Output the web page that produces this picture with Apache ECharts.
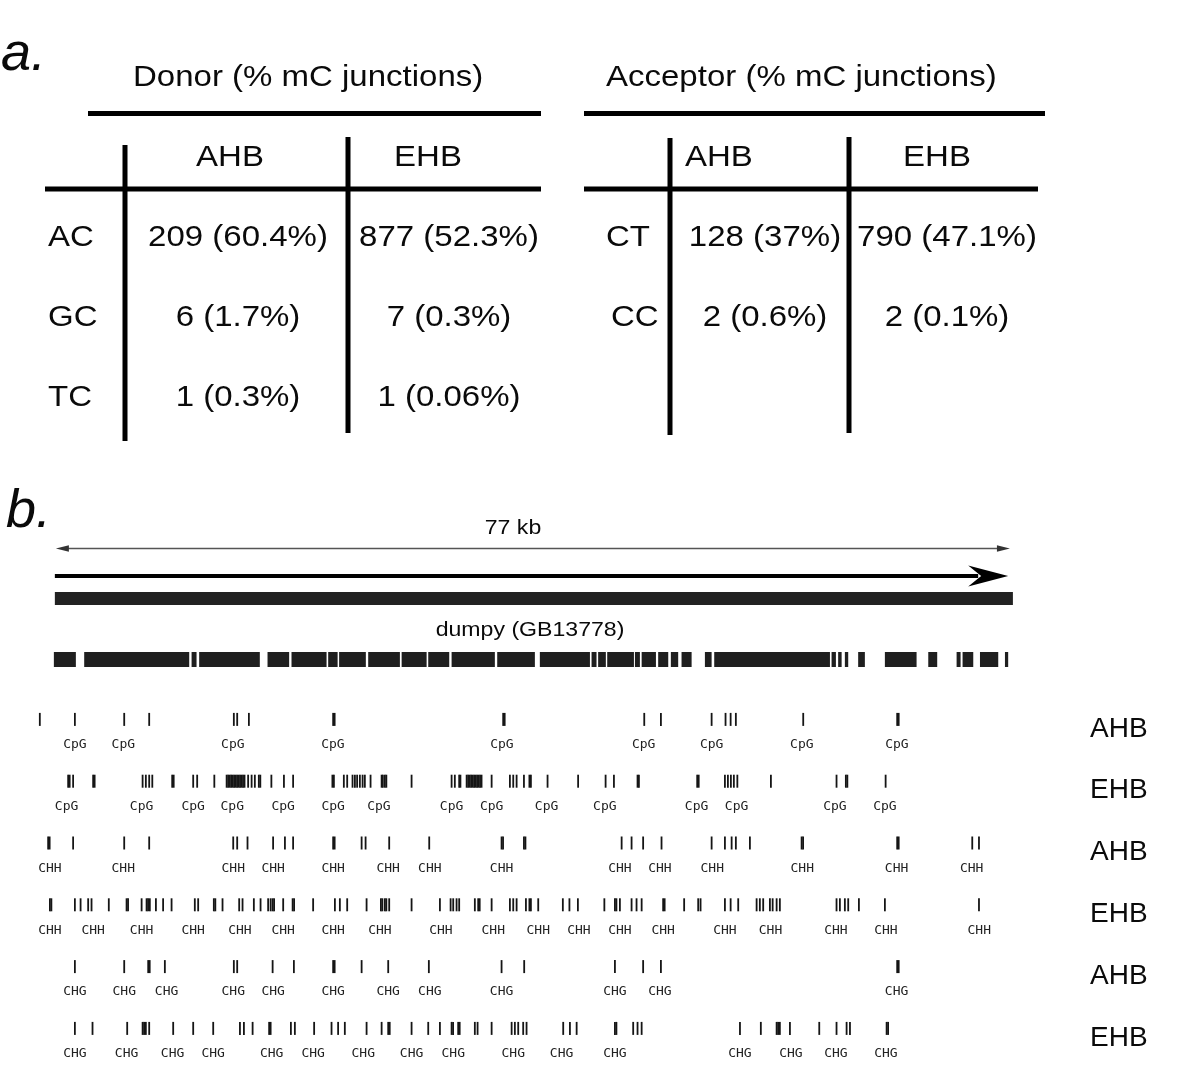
<!DOCTYPE html>
<html><head><meta charset="utf-8">
<script src="https://cdn.jsdelivr.net/npm/echarts@6.0.0/dist/echarts.min.js"></script>
<style>html,body{margin:0;padding:0;background:#fff}#c{width:1200px;height:1070px}</style>
</head><body><div id="c"></div>
<script>
// ---------- Part a: table data ----------
const donorTitle = 'Donor (% mC junctions)';
const acceptorTitle = 'Acceptor (% mC junctions)';
const tableColumns = ['AHB', 'EHB'];
const donorRowLabels = ['AC', 'GC', 'TC'];
const donorAHB = ['209 (60.4%)', '6 (1.7%)', '1 (0.3%)'];
const donorEHB = ['877 (52.3%)', '7 (0.3%)', '1 (0.06%)'];
const acceptorRowLabels = ['CT', 'CC'];
const acceptorAHB = ['128 (37%)', '2 (0.6%)'];
const acceptorEHB = ['790 (47.1%)', '2 (0.1%)'];

// ---------- Part b: gene + methylation tracks (positions in kb) ----------
const geneLengthKb = 77;
const rulerLabel = '77 kb';
const geneLabel = 'dumpy (GB13778)';
const transcriptSpan = [0, 76.7];
const exons = [[-0.08,1.69],[2.36,10.81],[11.00,11.40],[11.61,16.49],[17.11,18.85],[19.04,21.86],[21.99,22.75],[22.87,25.02],[25.21,27.76],[27.90,29.91],[30.04,31.73],[31.92,35.40],[35.59,38.62],[39.02,43.05],[43.18,43.58],[43.71,44.33],[44.44,46.59],[46.67,47.07],[47.21,48.36],[48.54,49.35],[49.56,50.15],[50.42,51.23],[52.30,52.84],[53.05,62.36],[62.49,62.84],[63.02,63.30],[63.56,63.83],[64.63,65.17],[66.78,69.33],[70.27,70.99],[72.55,72.87],[73.03,73.89],[74.43,75.90],[76.44,76.70]];

const trackSamples = ['AHB', 'EHB', 'AHB', 'EHB', 'AHB', 'EHB'];
const trackContexts = ['CpG', 'CpG', 'CHH', 'CHH', 'CHG', 'CHG'];

const sitesAHB_CpG = [-1.21,1.61,5.58,7.59,14.40,14.67,15.61,22.39,22.51,36.07,36.19,47.42,48.76,52.84,53.96,54.37,54.79,60.21,67.77,67.89];
const labelsAHB_CpG = [1.61,5.51,14.32,22.37,35.97,47.37,52.84,60.10,67.75];

const sitesEHB_CpG = [1.07,1.19,1.47,3.08,3.20,7.06,7.32,7.59,7.84,9.44,9.56,11.13,11.45,12.83,13.82,13.94,14.06,14.18,14.30,14.42,14.54,14.66,14.78,14.90,15.02,15.14,15.26,15.55,15.83,16.09,16.41,16.53,17.42,18.43,19.17,22.33,22.45,23.25,23.52,23.95,24.14,24.32,24.54,24.76,24.94,25.40,26.29,26.39,26.55,26.67,28.70,31.92,32.18,32.53,32.63,33.13,33.25,33.37,33.49,33.61,33.73,33.85,33.97,34.09,34.21,34.33,35.14,36.61,36.88,37.15,37.74,38.18,38.30,39.64,42.10,44.31,44.98,46.88,46.99,51.68,51.80,53.91,54.15,54.39,54.63,54.91,57.61,62.89,63.64,63.76,66.84];
const labelsEHB_CpG = [0.94,6.98,11.13,14.27,18.37,22.39,26.07,31.92,35.14,39.56,44.25,51.63,54.85,62.76,66.78];

const sitesAHB_CHH = [-0.54,-0.42,1.47,5.58,7.59,14.35,14.67,15.50,17.56,18.51,19.17,22.39,22.51,24.68,25.00,26.90,30.12,35.94,36.06,37.74,37.86,45.60,46.40,47.33,48.81,52.84,53.91,54.45,54.79,55.92,60.08,60.20,67.77,67.89,73.81,74.35];
const labelsAHB_CHH = [-0.40,5.50,14.35,17.56,22.39,26.82,30.17,35.94,45.46,48.68,52.89,60.13,67.72,73.76];

const sitesEHB_CHH = [-0.40,-0.28,1.61,2.07,2.68,2.95,4.34,5.77,5.89,6.98,7.38,7.50,7.64,8.13,8.71,9.39,11.26,11.53,12.79,12.91,13.49,14.83,15.10,16.01,16.55,17.16,17.36,17.52,17.64,18.37,19.13,19.25,20.78,22.53,22.93,23.52,25.08,26.23,26.35,26.55,26.67,26.90,28.70,30.98,31.84,32.05,32.32,32.53,33.79,34.06,34.18,35.14,36.61,36.88,37.15,37.90,38.18,38.30,38.89,40.87,41.40,42.08,44.21,45.06,45.18,45.46,46.40,46.80,47.21,48.94,49.06,50.63,51.76,51.95,53.91,54.37,54.98,56.46,56.72,56.99,57.53,57.75,58.07,58.33,62.89,63.16,63.56,63.83,64.69,66.78,74.35];
const labelsEHB_CHH = [-0.40,3.08,6.98,11.13,14.89,18.37,22.39,26.15,31.06,35.27,38.89,42.16,45.46,48.94,53.91,57.58,62.84,66.86,74.37];

const sitesAHB_CHG = [1.61,5.58,7.51,7.63,8.85,14.40,14.67,17.52,19.23,22.39,22.51,24.68,26.82,30.09,35.94,37.76,45.06,47.33,48.76,67.77,67.89];
const labelsAHB_CHG = [1.61,5.58,8.99,14.35,17.56,22.39,26.82,30.17,35.94,45.06,48.68,67.72];

const sitesEHB_CHG = [1.61,3.03,5.82,7.06,7.18,7.32,7.59,9.52,11.13,12.74,14.89,15.21,15.91,17.24,17.36,18.99,19.31,20.86,22.26,22.79,23.33,25.08,26.29,26.82,26.94,28.70,30.04,30.98,31.92,32.04,32.45,32.57,33.79,34.01,35.14,36.75,37.01,37.28,37.68,37.95,40.90,41.44,41.98,45.06,45.18,46.53,46.88,47.21,55.12,56.80,58.07,58.19,58.33,59.14,61.50,62.89,63.70,63.97,66.92,67.04];
const labelsEHB_CHG = [1.61,5.77,9.47,12.74,17.44,20.78,24.81,28.70,32.05,36.88,40.77,45.06,55.12,59.22,62.84,66.86];

const trackSites = [sitesAHB_CpG, sitesEHB_CpG, sitesAHB_CHH, sitesEHB_CHH, sitesAHB_CHG, sitesEHB_CHG];
const trackLabels = [labelsAHB_CpG, labelsEHB_CpG, labelsAHB_CHH, labelsEHB_CHH, labelsAHB_CHG, labelsEHB_CHG];

// ---------- layout / style ----------
const FONT = '"Liberation Sans", Arial, sans-serif';
const INK = '#0a0a0a';
const X_MIN = -2, X_MAX = 79.26;
const HEADER_OFF = { ruler: 18.5, transcript: 46, bodyTop: 62, bodyH: 13, exonTop: 122, exonH: 15 };

function txt(x, y, s, opts) {
  opts = opts || {};
  return {
    type: 'text', x: x, y: y, scaleX: opts.sx || 1.1, silent: true,
    style: {
      text: s, x: 0, y: 0, fill: INK,
      fontSize: opts.size || 30, fontFamily: FONT, fontStyle: opts.italic ? 'italic' : 'normal',
      align: opts.align || 'center', verticalAlign: 'middle'
    }
  };
}
function ln(x1, y1, x2, y2, w) {
  return { type: 'line', silent: true, shape: { x1: x1, y1: y1, x2: x2, y2: y2 }, style: { stroke: '#000', lineWidth: w || 5 } };
}

const graphics = [];
// panel letters
graphics.push(txt(1, 55, 'a.', { size: 54, italic: true, align: 'left', sx: 1 }));
graphics.push(txt(6, 512, 'b.', { size: 54, italic: true, align: 'left', sx: 1 }));
// donor table
graphics.push(txt(133, 78, donorTitle, { align: 'left' }));
graphics.push(ln(88, 113.5, 541, 113.5));
graphics.push(ln(125, 145, 125, 441));
graphics.push(ln(348, 137, 348, 433));
graphics.push(ln(45, 189, 541, 189));
graphics.push(txt(230, 158, tableColumns[0]));
graphics.push(txt(428, 158, tableColumns[1]));
const rowY = [238, 318, 398];
donorRowLabels.forEach((r, i) => {
  graphics.push(txt(48, rowY[i], r, { align: 'left' }));
  graphics.push(txt(238, rowY[i], donorAHB[i]));
  graphics.push(txt(449, rowY[i], donorEHB[i]));
});
// acceptor table
graphics.push(txt(606, 78, acceptorTitle, { align: 'left' }));
graphics.push(ln(584, 113.5, 1045, 113.5));
graphics.push(ln(670, 138, 670, 435));
graphics.push(ln(849, 137, 849, 433));
graphics.push(ln(584, 189, 1038, 189));
graphics.push(txt(685, 158, tableColumns[0], { align: 'left' }));
graphics.push(txt(937, 158, tableColumns[1]));
acceptorRowLabels.forEach((r, i) => {
  graphics.push(txt(r === 'CC' ? 611 : 606, rowY[i], r, { align: 'left' }));
  graphics.push(txt(765, rowY[i], acceptorAHB[i]));
  graphics.push(txt(947, rowY[i], acceptorEHB[i]));
});
// gene header texts
graphics.push(txt(513, 528, rulerLabel, { size: 21 }));
graphics.push(txt(530, 630, geneLabel, { size: 21 }));

// ---------- series ----------
const series = [];
// ruler (double arrow)
series.push({
  type: 'custom', xAxisIndex: 0, yAxisIndex: 0, silent: true,
  data: [[0, geneLengthKb]], encode: { x: [0, 1] },
  renderItem: function (params, api) {
    const a = api.coord([api.value(0), 0])[0] + 1, b = api.coord([api.value(1), 0])[0] - 2;
    const y = params.coordSys.y + HEADER_OFF.ruler;
    return { type: 'group', children: [
      { type: 'line', shape: { x1: a + 6, y1: y, x2: b - 6, y2: y }, style: { stroke: '#555', lineWidth: 1.6 } },
      { type: 'polygon', shape: { points: [[a, y], [a + 13, y - 3.2], [a + 13, y + 3.2]] }, style: { fill: '#333' } },
      { type: 'polygon', shape: { points: [[b, y], [b - 13, y - 3.2], [b - 13, y + 3.2]] }, style: { fill: '#333' } }
    ]};
  }
});
// transcript arrow
series.push({
  type: 'custom', xAxisIndex: 0, yAxisIndex: 0, silent: true,
  data: [transcriptSpan], encode: { x: [0, 1] },
  renderItem: function (params, api) {
    const a = api.coord([api.value(0), 0])[0], b = api.coord([api.value(1), 0])[0];
    const y = params.coordSys.y + HEADER_OFF.transcript;
    return { type: 'group', children: [
      { type: 'rect', shape: { x: a, y: y - 2, width: b - a - 30, height: 4 }, style: { fill: '#000' } },
      { type: 'polygon', shape: { points: [[b, y], [b - 40, y - 10.5], [b - 27, y], [b - 40, y + 10.5]] }, style: { fill: '#000' } }
    ]};
  }
});
// gene body bar
series.push({
  type: 'custom', xAxisIndex: 0, yAxisIndex: 0, silent: true,
  data: [[0, geneLengthKb]], encode: { x: [0, 1] },
  renderItem: function (params, api) {
    const a = api.coord([api.value(0), 0])[0], b = api.coord([api.value(1), 0])[0];
    return { type: 'rect', shape: { x: a, y: params.coordSys.y + HEADER_OFF.bodyTop, width: b - a + 1, height: HEADER_OFF.bodyH }, style: { fill: '#222' } };
  }
});
// exons
series.push({
  type: 'custom', xAxisIndex: 0, yAxisIndex: 0, silent: true,
  data: exons, encode: { x: [0, 1] },
  renderItem: function (params, api) {
    const a = api.coord([api.value(0), 0])[0], b = api.coord([api.value(1), 0])[0];
    return { type: 'rect', shape: { x: a, y: params.coordSys.y + HEADER_OFF.exonTop, width: Math.max(b - a, 1.5), height: HEADER_OFF.exonH }, style: { fill: '#1f1f1f' } };
  }
});
// methylation site ticks and context labels
trackSites.forEach((arr, row) => {
  series.push({
    type: 'custom', xAxisIndex: 1, yAxisIndex: 1, silent: true,
    data: arr.map(v => [v, row]), encode: { x: 0, y: 1 },
    renderItem: function (params, api) {
      const p = api.coord([api.value(0), api.value(1)]);
      return { type: 'rect', shape: { x: p[0] - 0.9, y: p[1] - 16, width: 1.8, height: 13 }, style: { fill: '#151515' } };
    }
  });
  series.push({
    type: 'custom', xAxisIndex: 1, yAxisIndex: 1, silent: true,
    data: trackLabels[row].map(v => [v, row]), encode: { x: 0, y: 1 },
    renderItem: function (params, api) {
      const p = api.coord([api.value(0), api.value(1)]);
      return { type: 'text', x: p[0], y: p[1] + 16,
        style: { text: trackContexts[row], align: 'center', verticalAlign: 'middle', fontSize: 13, fontFamily: '"DejaVu Sans Mono", monospace', fill: '#222' } };
    }
  });
});

const chart = echarts.init(document.getElementById('c'), null, { renderer: 'canvas' });
chart.setOption({
  animation: false,
  backgroundColor: '#fff',
  grid: [
    { left: 30, width: 1010, top: 530, height: 150 },
    { left: 30, width: 1010, top: 698, height: 370.8 }
  ],
  xAxis: [
    { type: 'value', gridIndex: 0, min: X_MIN, max: X_MAX, show: false },
    { type: 'value', gridIndex: 1, min: X_MIN, max: X_MAX, show: false }
  ],
  yAxis: [
    { type: 'value', gridIndex: 0, min: 0, max: 1, show: false },
    { type: 'category', gridIndex: 1, inverse: true, position: 'right',
      data: trackSamples.map((s, i) => s + ' ' + trackContexts[i]),
      axisLine: { show: false }, axisTick: { show: false }, splitLine: { show: false },
      axisLabel: { margin: 50, align: 'left', fontSize: 28, fontFamily: FONT, color: INK,
        formatter: function (v, i) { return trackSamples[i]; } } }
  ],
  graphic: graphics,
  series: series
});
</script>
</body></html>
